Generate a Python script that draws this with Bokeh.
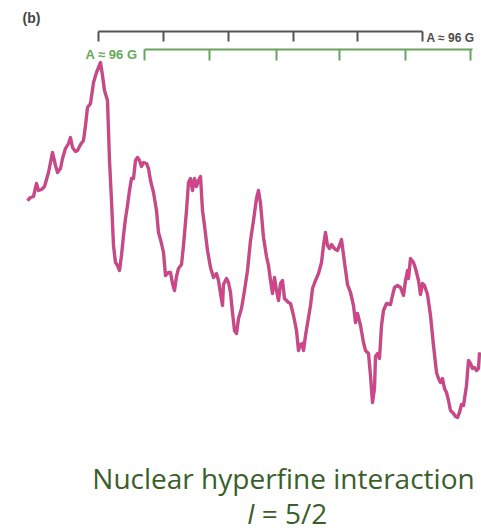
from bokeh.plotting import figure
from bokeh.models import Range1d
from bokeh.core.properties import value
from bokeh.embed import file_html
from bokeh.resources import INLINE

# EPR trace: field position (plot units) and signal level (plot units, downward positive)
field = [27, 30, 33, 36, 38, 41, 44, 48, 52, 55, 57, 60, 62, 65, 68, 70, 72, 75, 77, 80,
         83, 85, 87, 90, 93, 96, 98, 100, 102, 104, 107, 109, 111, 113, 115, 117, 119, 121,
         123, 125, 127, 129, 131, 133, 135, 137, 139, 141, 143, 146, 148, 150, 153, 156, 158,
         161, 163, 165, 168, 170, 172, 174, 176, 178, 181, 183, 186, 188, 190, 192, 194, 196,
         198, 200, 202, 204, 207, 210, 213, 216, 218, 220, 222, 223, 226, 228, 230, 232, 234,
         236, 238, 241, 244, 247, 250, 253, 256, 258, 260, 263, 266, 268, 270, 272, 274, 276,
         278, 280, 282, 284, 286, 288, 290, 293, 296, 298, 300, 302, 303, 305, 307, 310, 312,
         315, 318, 321, 323, 325, 327, 329, 331, 333, 335, 337, 339, 341, 344, 347, 350, 353,
         355, 357, 360, 363, 365, 368, 370, 372, 374, 375, 377, 379, 381, 383, 386, 390, 392,
         394, 397, 400, 403, 405, 407, 408, 410, 413, 415, 418, 420, 422, 424, 427, 430, 433,
         436, 438, 440, 442, 444, 446, 448, 450, 453, 455, 457, 459, 461, 463, 466, 468, 470,
         472, 474, 476, 478, 479]
signal = [200, 197, 196, 183, 190, 189, 186, 172, 152, 165, 172, 168, 158, 148, 143, 137, 147,
          151, 150, 144, 140, 125, 107, 103, 82, 72, 67, 62, 75, 90, 100, 160, 200, 245, 262,
          265, 270, 255, 235, 218, 205, 190, 178, 178, 160, 157, 160, 166, 162, 163, 168, 180,
          192, 210, 232, 243, 252, 275, 272, 272, 283, 290, 276, 268, 264, 245, 210, 182, 178,
          190, 178, 186, 180, 176, 210, 225, 250, 267, 277, 273, 280, 293, 305, 284, 278, 282,
          292, 312, 330, 333, 318, 308, 290, 270, 240, 220, 198, 190, 203, 237, 256, 265, 280,
          293, 277, 290, 300, 283, 280, 298, 300, 302, 303, 315, 330, 350, 344, 343, 350, 335,
          323, 305, 288, 280, 273, 262, 245, 232, 245, 248, 244, 247, 249, 250, 245, 239, 262,
          284, 292, 305, 322, 313, 325, 342, 350, 353, 375, 402, 388, 356, 353, 358, 325, 310,
          303, 304, 295, 287, 285, 287, 295, 280, 270, 278, 258, 262, 268, 280, 294, 283, 285,
          294, 315, 345, 372, 378, 382, 378, 388, 392, 400, 410, 413, 416, 417, 412, 404, 405,
          385, 360, 363, 368, 367, 370, 368, 352]

# Hyperfine stick positions for the two sextets
sticks_gray = [98, 163, 228, 293, 357, 422]
sticks_green = [144, 209, 276, 339, 405, 470]
green_line_end = 472
splitting_label = "A ≈ 96 G"

W, H = 481, 532
p = figure(width=W, height=H, output_backend="svg", toolbar_location=None,
           x_range=Range1d(0, W), y_range=Range1d(H, 0), min_border=0)
p.axis.visible = False
p.grid.visible = False
p.outline_line_color = None
p.background_fill_color = "white"
p.border_fill_color = "white"

# Stick diagram (gray sextet)
gray = "#555555"
p.segment(x0=[sticks_gray[0]], y0=[31], x1=[sticks_gray[-1]], y1=[31], line_color=gray, line_width=2)
p.segment(x0=sticks_gray, y0=[31] * len(sticks_gray), x1=sticks_gray, y1=[41] * len(sticks_gray),
          line_color=gray, line_width=2)
p.text(x=[426], y=[37], text=[splitting_label], text_color="#4d4d4d",
       text_font=value("Liberation Sans"), text_font_style="bold", text_font_size="12px",
       text_align="left", text_baseline="middle")

# Stick diagram (green sextet)
green = "#6aa35e"
p.segment(x0=[sticks_green[0]], y0=[49], x1=[green_line_end], y1=[49], line_color=green, line_width=2)
p.segment(x0=sticks_green, y0=[49] * len(sticks_green), x1=sticks_green, y1=[60] * len(sticks_green),
          line_color=green, line_width=2)
p.text(x=[137], y=[54], text=[splitting_label], text_color="#66a95a",
       text_font=value("Liberation Sans"), text_font_style="bold", text_font_size="13px",
       text_align="right", text_baseline="middle")

# Spectrum
p.line(field, signal, line_color="#a06080", line_width=3.4, line_join="round")
p.line(field, signal, line_color="#e23a8e", line_width=1.8, line_join="round")

# Panel tag
p.text(x=[22], y=[17], text=["(b)"], text_color="#444444",
       text_font=value("Liberation Sans"), text_font_style="bold", text_font_size="14px",
       text_align="left", text_baseline="middle")

# Caption
caption_color = "#3a5f2a"
p.text(x=[283], y=[477], text=["Nuclear hyperfine interaction"], text_color=caption_color,
       text_font=value("Open Sans"), text_font_size="28px", text_align="center",
       text_baseline="alphabetic")
p.text(x=[254], y=[512], text=["I"], text_color=caption_color,
       text_font=value("Open Sans"), text_font_style="italic", text_font_size="28px",
       text_align="right", text_baseline="alphabetic")
p.text(x=[254], y=[512], text=["\u00a0= 5/2"], text_color=caption_color,
       text_font=value("Open Sans"), text_font_size="28px", text_align="left",
       text_baseline="alphabetic")

open("out.html", "w").write(file_html(p, INLINE))
